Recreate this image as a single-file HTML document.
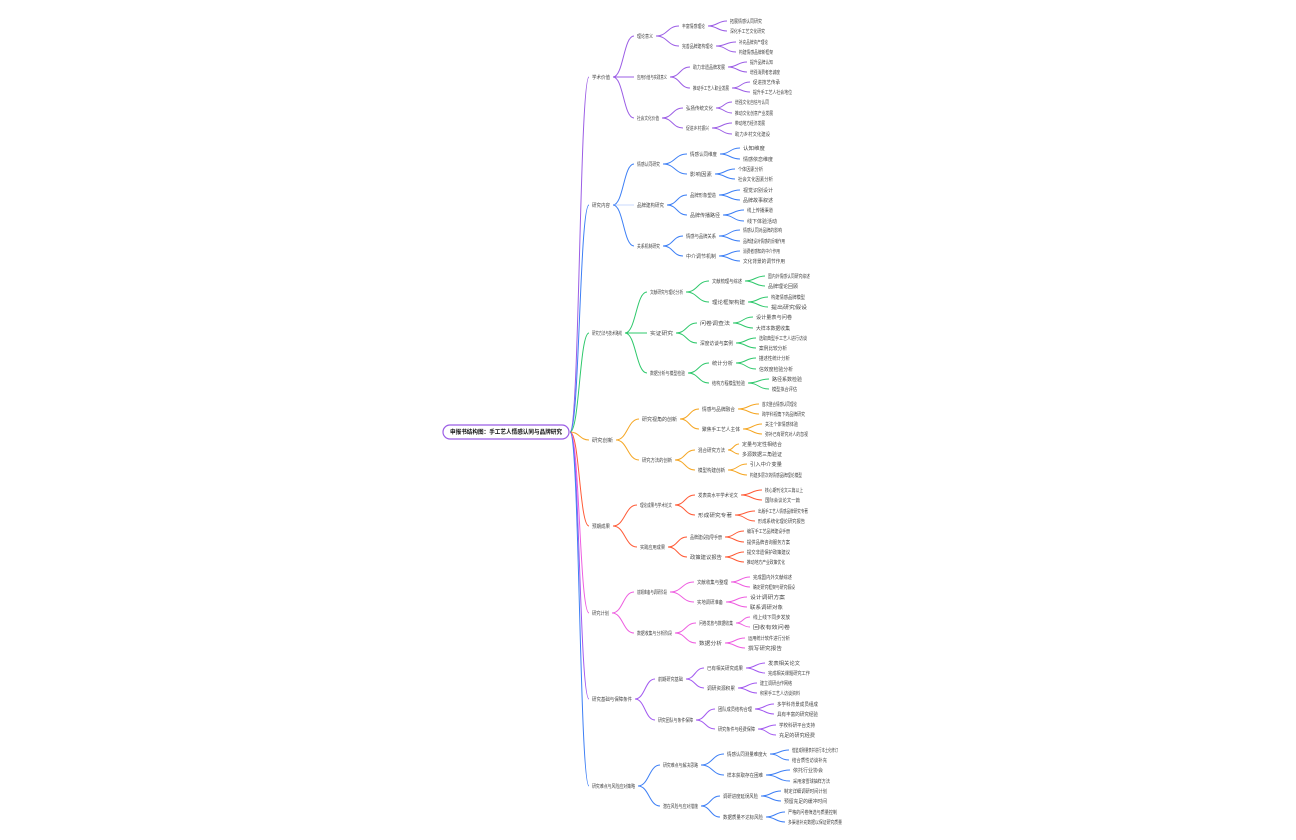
<!DOCTYPE html>
<html><head><meta charset="utf-8"><style>
html,body{margin:0;padding:0;background:#fff;}
svg{display:block}
text{font-family:"Liberation Sans","Noto Sans CJK SC",sans-serif;font-size:5px;fill:#444;}
.r{font-size:6px;fill:#111;font-weight:bold}
path{fill:none;stroke-width:1}
</style></head><body>
<svg width="1296" height="840" viewBox="0 0 1296 840" xmlns="http://www.w3.org/2000/svg">
<!-- trunk -->
<path stroke="#9b5de5" d="M570 432 C579.5 432 579.5 77 589 77"/>
<path stroke="#3d7ff5" d="M570 432 C579.5 432 579.5 205 589 205"/>
<path stroke="#2ec86b" d="M570 432 C579.5 432 579.5 333 589 333"/>
<path stroke="#f5a623" d="M570 432 C579.5 432 579.5 440 589 440"/>
<path stroke="#ff5a36" d="M570 432 C579.5 432 579.5 526 589 526"/>
<path stroke="#ee5ee0" d="M570 432 C579.5 432 579.5 613 589 613"/>
<path stroke="#a259f0" d="M570 432 C579.5 432 579.5 699 589 699"/>
<path stroke="#3d7ff5" d="M570 432 C579.5 432 579.5 786 589 786"/>
<rect x="443" y="425" width="126" height="14" rx="7" fill="#fff" stroke="#9b5de5" stroke-width="1.2"/>
<text class="r" x="450" y="434" textLength="112" lengthAdjust="spacingAndGlyphs">申报书结构图：手工艺人情感认同与品牌研究</text>

<!-- B1 -->
<g stroke="#9b5de5">
<path d="M613 77 C623.5 77 623.5 36 634 36"/><path d="M613 77 C623.5 77 623.5 77 634 77"/><path d="M613 77 C623.5 77 623.5 118 634 118"/>
<path d="M656 36 C667.5 36 667.5 26 679 26"/><path d="M656 36 C667.5 36 667.5 46 679 46"/>
<path d="M708 26 C717.5 26 717.5 21 727 21"/><path d="M708 26 C717.5 26 717.5 31 727 31"/>
<path d="M716 46 C726 46 726 42 736 42"/><path d="M716 46 C726 46 726 52 736 52"/>
<path d="M670 77 C680 77 680 67 690 67"/><path d="M670 77 C680 77 680 88 690 88"/>
<path d="M728 67 C737.5 67 737.5 62 747 62"/><path d="M728 67 C737.5 67 737.5 72 747 72"/>
<path d="M732 88 C741 88 741 82 750 82"/><path d="M732 88 C741 88 741 92 750 92"/>
<path d="M662 118 C672.5 118 672.5 108 683 108"/><path d="M662 118 C672.5 118 672.5 128 683 128"/>
<path d="M716 108 C724 108 724 102 732 102"/><path d="M716 108 C724 108 724 113 732 113"/>
<path d="M712 128 C722 128 722 123 732 123"/><path d="M712 128 C722 128 722 134 732 134"/>
</g>
<g>
<text x="592" y="79" textLength="18" lengthAdjust="spacingAndGlyphs">学术价值</text>
<text x="637" y="38" textLength="16" lengthAdjust="spacingAndGlyphs">理论意义</text>
<text x="637" y="79" textLength="30" lengthAdjust="spacingAndGlyphs">应用价值与实践意义</text>
<text x="637" y="120" textLength="22" lengthAdjust="spacingAndGlyphs">社会文化价值</text>
<text x="682" y="28" textLength="23" lengthAdjust="spacingAndGlyphs">丰富情感理论</text>
<text x="682" y="48" textLength="31" lengthAdjust="spacingAndGlyphs">完善品牌建构理论</text>
<text x="730" y="23" textLength="32" lengthAdjust="spacingAndGlyphs">拓展情感认同研究</text>
<text x="730" y="33" textLength="35" lengthAdjust="spacingAndGlyphs">深化手工艺文化研究</text>
<text x="739" y="44" textLength="29" lengthAdjust="spacingAndGlyphs">补充品牌资产理论</text>
<text x="739" y="54" textLength="34" lengthAdjust="spacingAndGlyphs">构建情感品牌新框架</text>
<text x="693" y="69" textLength="32" lengthAdjust="spacingAndGlyphs">助力非遗品牌发展</text>
<text x="693" y="90" textLength="36" lengthAdjust="spacingAndGlyphs">推动手工艺人职业发展</text>
<text x="750" y="64" textLength="23" lengthAdjust="spacingAndGlyphs">提升品牌认知</text>
<text x="750" y="74" textLength="30" lengthAdjust="spacingAndGlyphs">增强消费者忠诚度</text>
<text x="753" y="84" textLength="27" lengthAdjust="spacingAndGlyphs">促进技艺传承</text>
<text x="753" y="94" textLength="39" lengthAdjust="spacingAndGlyphs">提升手工艺人社会地位</text>
<text x="686" y="110" textLength="27" lengthAdjust="spacingAndGlyphs">弘扬传统文化</text>
<text x="686" y="130" textLength="23" lengthAdjust="spacingAndGlyphs">促进乡村振兴</text>
<text x="735" y="104" textLength="34" lengthAdjust="spacingAndGlyphs">增强文化自信与认同</text>
<text x="735" y="115" textLength="38" lengthAdjust="spacingAndGlyphs">推动文化创意产业发展</text>
<text x="735" y="125" textLength="30" lengthAdjust="spacingAndGlyphs">带动地方经济发展</text>
<text x="735" y="136" textLength="35" lengthAdjust="spacingAndGlyphs">助力乡村文化建设</text>
</g>

<!-- B2 -->
<g stroke="#3d7ff5">
<path d="M613 205 C623.5 205 623.5 164 634 164"/><path d="M613 205 C623.5 205 623.5 205 634 205" stroke="#c9dafc" stroke-width="2.5"/><path d="M613 205 C623.5 205 623.5 246 634 246"/>
<path d="M663 164 C675 164 675 154 687 154"/><path d="M663 164 C675 164 675 174 687 174"/>
<path d="M720 154 C730 154 730 148 740 148"/><path d="M720 154 C730 154 730 159 740 159"/>
<path d="M715 174 C725 174 725 169 735 169"/><path d="M715 174 C725 174 725 179 735 179"/>
<path d="M667 205 C677 205 677 195 687 195"/><path d="M667 205 C677 205 677 215 687 215"/>
<path d="M719 195 C729.5 195 729.5 190 740 190"/><path d="M719 195 C729.5 195 729.5 200 740 200"/>
<path d="M723 215 C733.5 215 733.5 210 744 210"/><path d="M723 215 C733.5 215 733.5 221 744 221"/>
<path d="M663 246 C673 246 673 236 683 236"/><path d="M663 246 C673 246 673 256 683 256"/>
<path d="M719 236 C729.5 236 729.5 230 740 230"/><path d="M719 236 C729.5 236 729.5 241 740 241"/>
<path d="M719 256 C729.5 256 729.5 251 740 251"/><path d="M719 256 C729.5 256 729.5 261 740 261"/>
</g>
<g>
<text x="592" y="207" textLength="18" lengthAdjust="spacingAndGlyphs">研究内容</text>
<text x="637" y="166" textLength="23" lengthAdjust="spacingAndGlyphs">情感认同研究</text>
<text x="637" y="207" textLength="27" lengthAdjust="spacingAndGlyphs">品牌建构研究</text>
<text x="637" y="248" textLength="23" lengthAdjust="spacingAndGlyphs">关系机制研究</text>
<text x="690" y="156" textLength="27" lengthAdjust="spacingAndGlyphs">情感认同维度</text>
<text x="690" y="176" textLength="22" lengthAdjust="spacingAndGlyphs">影响因素</text>
<text x="743" y="150" textLength="22" lengthAdjust="spacingAndGlyphs">认知维度</text>
<text x="743" y="161" textLength="30" lengthAdjust="spacingAndGlyphs">情感依恋维度</text>
<text x="738" y="171" textLength="25" lengthAdjust="spacingAndGlyphs">个体因素分析</text>
<text x="738" y="181" textLength="35" lengthAdjust="spacingAndGlyphs">社会文化因素分析</text>
<text x="690" y="197" textLength="26" lengthAdjust="spacingAndGlyphs">品牌形象塑造</text>
<text x="690" y="217" textLength="30" lengthAdjust="spacingAndGlyphs">品牌传播路径</text>
<text x="743" y="192" textLength="30" lengthAdjust="spacingAndGlyphs">视觉识别设计</text>
<text x="743" y="202" textLength="30" lengthAdjust="spacingAndGlyphs">品牌故事叙述</text>
<text x="747" y="212" textLength="26" lengthAdjust="spacingAndGlyphs">线上传播渠道</text>
<text x="747" y="223" textLength="30" lengthAdjust="spacingAndGlyphs">线下体验活动</text>
<text x="686" y="238" textLength="30" lengthAdjust="spacingAndGlyphs">情感与品牌关系</text>
<text x="686" y="258" textLength="30" lengthAdjust="spacingAndGlyphs">中介调节机制</text>
<text x="743" y="232" textLength="39" lengthAdjust="spacingAndGlyphs">情感认同对品牌的影响</text>
<text x="743" y="243" textLength="42" lengthAdjust="spacingAndGlyphs">品牌建设对情感的反哺作用</text>
<text x="743" y="253" textLength="37" lengthAdjust="spacingAndGlyphs">消费者感知的中介作用</text>
<text x="743" y="263" textLength="42" lengthAdjust="spacingAndGlyphs">文化背景的调节作用</text>
</g>

<!-- B3 -->
<g stroke="#2ec86b">
<path d="M625 333 C636 333 636 292 647 292"/><path d="M625 333 C636 333 636 333 647 333"/><path d="M625 333 C636 333 636 373 647 373"/>
<path d="M686 292 C697.5 292 697.5 281 709 281"/><path d="M686 292 C697.5 292 697.5 302 709 302"/>
<path d="M745 281 C755 281 755 276 765 276"/><path d="M745 281 C755 281 755 286 765 286"/>
<path d="M748 302 C758 302 758 297 768 297"/><path d="M748 302 C758 302 758 307 768 307"/>
<path d="M676 333 C686.5 333 686.5 323 697 323"/><path d="M676 333 C686.5 333 686.5 343 697 343"/>
<path d="M733 323 C743 323 743 317 753 317"/><path d="M733 323 C743 323 743 328 753 328"/>
<path d="M736 343 C746 343 746 338 756 338"/><path d="M736 343 C746 343 746 348 756 348"/>
<path d="M688 373 C698.5 373 698.5 363 709 363"/><path d="M688 373 C698.5 373 698.5 383 709 383"/>
<path d="M736 363 C746 363 746 358 756 358"/><path d="M736 363 C746 363 746 369 756 369"/>
<path d="M748 383 C758.5 383 758.5 379 769 379"/><path d="M748 383 C758.5 383 758.5 389 769 389"/>
</g>
<g>
<text x="592" y="335" textLength="30" lengthAdjust="spacingAndGlyphs">研究方法与技术路线</text>
<text x="650" y="294" textLength="33" lengthAdjust="spacingAndGlyphs">文献研究与理论分析</text>
<text x="650" y="335" textLength="23" lengthAdjust="spacingAndGlyphs">实证研究</text>
<text x="650" y="375" textLength="35" lengthAdjust="spacingAndGlyphs">数据分析与模型检验</text>
<text x="712" y="283" textLength="30" lengthAdjust="spacingAndGlyphs">文献梳理与综述</text>
<text x="712" y="304" textLength="33" lengthAdjust="spacingAndGlyphs">理论框架构建</text>
<text x="768" y="278" textLength="42" lengthAdjust="spacingAndGlyphs">国内外情感认同研究综述</text>
<text x="768" y="288" textLength="30" lengthAdjust="spacingAndGlyphs">品牌理论回顾</text>
<text x="771" y="299" textLength="34" lengthAdjust="spacingAndGlyphs">构建情感品牌模型</text>
<text x="771" y="309" textLength="36" lengthAdjust="spacingAndGlyphs">提出研究假设</text>
<text x="700" y="325" textLength="30" lengthAdjust="spacingAndGlyphs">问卷调查法</text>
<text x="700" y="345" textLength="33" lengthAdjust="spacingAndGlyphs">深度访谈与案例</text>
<text x="756" y="319" textLength="36" lengthAdjust="spacingAndGlyphs">设计量表与问卷</text>
<text x="756" y="330" textLength="34" lengthAdjust="spacingAndGlyphs">大样本数据收集</text>
<text x="759" y="340" textLength="48" lengthAdjust="spacingAndGlyphs">选取典型手工艺人进行访谈</text>
<text x="759" y="350" textLength="28" lengthAdjust="spacingAndGlyphs">案例比较分析</text>
<text x="712" y="365" textLength="21" lengthAdjust="spacingAndGlyphs">统计分析</text>
<text x="712" y="385" textLength="33" lengthAdjust="spacingAndGlyphs">结构方程模型检验</text>
<text x="759" y="360" textLength="31" lengthAdjust="spacingAndGlyphs">描述性统计分析</text>
<text x="759" y="371" textLength="34" lengthAdjust="spacingAndGlyphs">信效度检验分析</text>
<text x="772" y="381" textLength="30" lengthAdjust="spacingAndGlyphs">路径系数检验</text>
<text x="772" y="391" textLength="25" lengthAdjust="spacingAndGlyphs">模型拟合评估</text>
</g>

<!-- B4 -->
<g stroke="#f5a623">
<path d="M616 440 C627.5 440 627.5 419 639 419"/><path d="M616 440 C627.5 440 627.5 460 639 460"/>
<path d="M680 419 C689.5 419 689.5 409 699 409"/><path d="M680 419 C689.5 419 689.5 429 699 429"/>
<path d="M738 409 C748.5 409 748.5 404 759 404"/><path d="M738 409 C748.5 409 748.5 414 759 414"/>
<path d="M743 429 C752.5 429 752.5 424 762 424"/><path d="M743 429 C752.5 429 752.5 434 762 434"/>
<path d="M675 460 C685 460 685 450 695 450"/><path d="M675 460 C685 460 685 470 695 470"/>
<path d="M728 450 C733.5 450 733.5 444 739 444"/><path d="M728 450 C733.5 450 733.5 454 739 454"/>
<path d="M728 470 C737.5 470 737.5 464 747 464"/><path d="M728 470 C737.5 470 737.5 475 747 475"/>
</g>
<g>
<text x="592" y="442" textLength="21" lengthAdjust="spacingAndGlyphs">研究创新</text>
<text x="642" y="421" textLength="35" lengthAdjust="spacingAndGlyphs">研究视角的创新</text>
<text x="642" y="462" textLength="30" lengthAdjust="spacingAndGlyphs">研究方法的创新</text>
<text x="702" y="411" textLength="33" lengthAdjust="spacingAndGlyphs">情感与品牌融合</text>
<text x="702" y="431" textLength="38" lengthAdjust="spacingAndGlyphs">聚焦手工艺人主体</text>
<text x="762" y="406" textLength="35" lengthAdjust="spacingAndGlyphs">首次整合情感认同理论</text>
<text x="762" y="416" textLength="43" lengthAdjust="spacingAndGlyphs">跨学科视角下的品牌研究</text>
<text x="765" y="426" textLength="33" lengthAdjust="spacingAndGlyphs">关注个体情感体验</text>
<text x="765" y="436" textLength="43" lengthAdjust="spacingAndGlyphs">弥补已有研究对人的忽视</text>
<text x="698" y="452" textLength="27" lengthAdjust="spacingAndGlyphs">混合研究方法</text>
<text x="698" y="472" textLength="27" lengthAdjust="spacingAndGlyphs">模型构建创新</text>
<text x="742" y="446" textLength="40" lengthAdjust="spacingAndGlyphs">定量与定性相结合</text>
<text x="742" y="456" textLength="40" lengthAdjust="spacingAndGlyphs">多源数据三角验证</text>
<text x="750" y="466" textLength="32" lengthAdjust="spacingAndGlyphs">引入中介变量</text>
<text x="750" y="477" textLength="52" lengthAdjust="spacingAndGlyphs">构建多层次的情感品牌理论模型</text>
</g>

<!-- B5 -->
<g stroke="#ff5a36">
<path d="M613 526 C625 526 625 505 637 505"/><path d="M613 526 C625 526 625 547 637 547"/>
<path d="M675 505 C685 505 685 495 695 495"/><path d="M675 505 C685 505 685 515 695 515"/>
<path d="M741 495 C751.5 495 751.5 490 762 490"/><path d="M741 495 C751.5 495 751.5 500 762 500"/>
<path d="M735 515 C745 515 745 511 755 511"/><path d="M735 515 C745 515 745 521 755 521"/>
<path d="M668 547 C677.5 547 677.5 537 687 537"/><path d="M668 547 C677.5 547 677.5 557 687 557"/>
<path d="M725 537 C734.5 537 734.5 531 744 531"/><path d="M725 537 C734.5 537 734.5 542 744 542"/>
<path d="M725 557 C734.5 557 734.5 552 744 552"/><path d="M725 557 C734.5 557 734.5 562 744 562"/>
</g>
<g>
<text x="592" y="528" textLength="18" lengthAdjust="spacingAndGlyphs">预期成果</text>
<text x="640" y="507" textLength="32" lengthAdjust="spacingAndGlyphs">理论成果与学术论文</text>
<text x="640" y="549" textLength="25" lengthAdjust="spacingAndGlyphs">实践应用成果</text>
<text x="698" y="497" textLength="40" lengthAdjust="spacingAndGlyphs">发表高水平学术论文</text>
<text x="698" y="517" textLength="34" lengthAdjust="spacingAndGlyphs">形成研究专著</text>
<text x="765" y="492" textLength="38" lengthAdjust="spacingAndGlyphs">核心期刊论文三篇以上</text>
<text x="765" y="502" textLength="35" lengthAdjust="spacingAndGlyphs">国际会议论文一篇</text>
<text x="758" y="513" textLength="50" lengthAdjust="spacingAndGlyphs">出版手工艺人情感品牌研究专著</text>
<text x="758" y="523" textLength="47" lengthAdjust="spacingAndGlyphs">形成系统化理论研究报告</text>
<text x="690" y="539" textLength="32" lengthAdjust="spacingAndGlyphs">品牌建设指导手册</text>
<text x="690" y="559" textLength="32" lengthAdjust="spacingAndGlyphs">政策建议报告</text>
<text x="747" y="533" textLength="43" lengthAdjust="spacingAndGlyphs">编写手工艺品牌建设手册</text>
<text x="747" y="544" textLength="43" lengthAdjust="spacingAndGlyphs">提供品牌咨询服务方案</text>
<text x="747" y="554" textLength="43" lengthAdjust="spacingAndGlyphs">提交非遗保护政策建议</text>
<text x="747" y="564" textLength="38" lengthAdjust="spacingAndGlyphs">推动地方产业政策优化</text>
</g>

<!-- B6 -->
<g stroke="#ee5ee0">
<path d="M612 613 C623 613 623 592 634 592"/><path d="M612 613 C623 613 623 633 634 633"/>
<path d="M670 592 C682 592 682 582 694 582"/><path d="M670 592 C682 592 682 602 694 602"/>
<path d="M731 582 C740.5 582 740.5 577 750 577"/><path d="M731 582 C740.5 582 740.5 587 750 587"/>
<path d="M726 602 C736.5 602 736.5 597 747 597"/><path d="M726 602 C736.5 602 736.5 607 747 607"/>
<path d="M675 633 C685.5 633 685.5 623 696 623"/><path d="M675 633 C685.5 633 685.5 643 696 643"/>
<path d="M736 623 C743 623 743 617 750 617"/><path d="M736 623 C743 623 743 627 750 627"/>
<path d="M725 643 C735 643 735 638 745 638"/><path d="M725 643 C735 643 735 648 745 648"/>
</g>
<g>
<text x="592" y="615" textLength="17" lengthAdjust="spacingAndGlyphs">研究计划</text>
<text x="637" y="594" textLength="30" lengthAdjust="spacingAndGlyphs">前期准备与调研阶段</text>
<text x="637" y="635" textLength="35" lengthAdjust="spacingAndGlyphs">数据收集与分析阶段</text>
<text x="697" y="584" textLength="31" lengthAdjust="spacingAndGlyphs">文献收集与整理</text>
<text x="697" y="604" textLength="26" lengthAdjust="spacingAndGlyphs">实地调研准备</text>
<text x="753" y="579" textLength="39" lengthAdjust="spacingAndGlyphs">完成国内外文献综述</text>
<text x="753" y="589" textLength="42" lengthAdjust="spacingAndGlyphs">确定研究框架与研究假设</text>
<text x="750" y="599" textLength="35" lengthAdjust="spacingAndGlyphs">设计调研方案</text>
<text x="750" y="609" textLength="33" lengthAdjust="spacingAndGlyphs">联系调研对象</text>
<text x="699" y="625" textLength="34" lengthAdjust="spacingAndGlyphs">问卷发放与数据收集</text>
<text x="699" y="645" textLength="23" lengthAdjust="spacingAndGlyphs">数据分析</text>
<text x="753" y="619" textLength="37" lengthAdjust="spacingAndGlyphs">线上线下同步发放</text>
<text x="753" y="629" textLength="37" lengthAdjust="spacingAndGlyphs">回收有效问卷</text>
<text x="748" y="640" textLength="42" lengthAdjust="spacingAndGlyphs">运用统计软件进行分析</text>
<text x="748" y="650" textLength="34" lengthAdjust="spacingAndGlyphs">撰写研究报告</text>
</g>

<!-- B7 -->
<g stroke="#a259f0">
<path d="M635 699 C645 699 645 679 655 679"/><path d="M635 699 C645 699 645 720 655 720"/>
<path d="M686 679 C695 679 695 668 704 668"/><path d="M686 679 C695 679 695 688 704 688"/>
<path d="M746 668 C755.5 668 755.5 663 765 663"/><path d="M746 668 C755.5 668 755.5 673 765 673"/>
<path d="M738 688 C747.5 688 747.5 683 757 683"/><path d="M738 688 C747.5 688 747.5 693 757 693"/>
<path d="M696 720 C705.5 720 705.5 709 715 709"/><path d="M696 720 C705.5 720 705.5 729 715 729"/>
<path d="M755 709 C764.5 709 764.5 704 774 704"/><path d="M755 709 C764.5 709 764.5 714 774 714"/>
<path d="M758 729 C767 729 767 725 776 725"/><path d="M758 729 C767 729 767 735 776 735"/>
</g>
<g>
<text x="592" y="701" textLength="40" lengthAdjust="spacingAndGlyphs">研究基础与保障条件</text>
<text x="658" y="681" textLength="25" lengthAdjust="spacingAndGlyphs">前期研究基础</text>
<text x="658" y="722" textLength="35" lengthAdjust="spacingAndGlyphs">研究团队与条件保障</text>
<text x="707" y="670" textLength="36" lengthAdjust="spacingAndGlyphs">已有相关研究成果</text>
<text x="707" y="690" textLength="28" lengthAdjust="spacingAndGlyphs">调研资源积累</text>
<text x="768" y="665" textLength="32" lengthAdjust="spacingAndGlyphs">发表相关论文</text>
<text x="768" y="675" textLength="42" lengthAdjust="spacingAndGlyphs">完成相关课题研究工作</text>
<text x="760" y="685" textLength="32" lengthAdjust="spacingAndGlyphs">建立调研合作网络</text>
<text x="760" y="695" textLength="40" lengthAdjust="spacingAndGlyphs">积累手工艺人访谈资料</text>
<text x="718" y="711" textLength="34" lengthAdjust="spacingAndGlyphs">团队成员结构合理</text>
<text x="718" y="731" textLength="37" lengthAdjust="spacingAndGlyphs">研究条件与经费保障</text>
<text x="777" y="706" textLength="41" lengthAdjust="spacingAndGlyphs">多学科背景成员组成</text>
<text x="777" y="716" textLength="41" lengthAdjust="spacingAndGlyphs">具有丰富的研究经验</text>
<text x="779" y="727" textLength="36" lengthAdjust="spacingAndGlyphs">学校科研平台支持</text>
<text x="779" y="737" textLength="36" lengthAdjust="spacingAndGlyphs">充足的研究经费</text>
</g>

<!-- B8 -->
<g stroke="#3d7ff5">
<path d="M638 786 C649 786 649 765 660 765"/><path d="M638 786 C649 786 649 806 660 806"/>
<path d="M701 765 C712.5 765 712.5 754 724 754"/><path d="M701 765 C712.5 765 712.5 775 724 775"/>
<path d="M770 754 C779.5 754 779.5 750 789 750"/><path d="M770 754 C779.5 754 779.5 760 789 760"/>
<path d="M766 775 C778 775 778 770 790 770"/><path d="M766 775 C778 775 778 781 790 781"/>
<path d="M701 806 C710.5 806 710.5 796 720 796"/><path d="M701 806 C710.5 806 710.5 817 720 817"/>
<path d="M761 796 C771 796 771 791 781 791"/><path d="M761 796 C771 796 771 801 781 801"/>
<path d="M766 817 C775.5 817 775.5 812 785 812"/><path d="M766 817 C775.5 817 775.5 822 785 822"/>
</g>
<g>
<text x="592" y="788" textLength="43" lengthAdjust="spacingAndGlyphs">研究难点与风险应对策略</text>
<text x="663" y="767" textLength="35" lengthAdjust="spacingAndGlyphs">研究难点与解决思路</text>
<text x="663" y="808" textLength="35" lengthAdjust="spacingAndGlyphs">潜在风险与应对措施</text>
<text x="727" y="756" textLength="40" lengthAdjust="spacingAndGlyphs">情感认同测量难度大</text>
<text x="727" y="777" textLength="36" lengthAdjust="spacingAndGlyphs">样本获取存在困难</text>
<text x="792" y="752" textLength="46" lengthAdjust="spacingAndGlyphs">借鉴成熟量表并进行本土化修订</text>
<text x="792" y="762" textLength="35" lengthAdjust="spacingAndGlyphs">结合质性访谈补充</text>
<text x="793" y="772" textLength="30" lengthAdjust="spacingAndGlyphs">依托行业协会</text>
<text x="793" y="783" textLength="37" lengthAdjust="spacingAndGlyphs">采用滚雪球抽样方法</text>
<text x="723" y="798" textLength="35" lengthAdjust="spacingAndGlyphs">调研进度延误风险</text>
<text x="723" y="819" textLength="40" lengthAdjust="spacingAndGlyphs">数据质量不达标风险</text>
<text x="784" y="793" textLength="43" lengthAdjust="spacingAndGlyphs">制定详细调研时间计划</text>
<text x="784" y="803" textLength="43" lengthAdjust="spacingAndGlyphs">预留充足的缓冲时间</text>
<text x="788" y="814" textLength="49" lengthAdjust="spacingAndGlyphs">严格的问卷筛选与质量控制</text>
<text x="788" y="824" textLength="54" lengthAdjust="spacingAndGlyphs">多渠道补充数据以保证研究质量</text>
</g>
</svg>
</body></html>
